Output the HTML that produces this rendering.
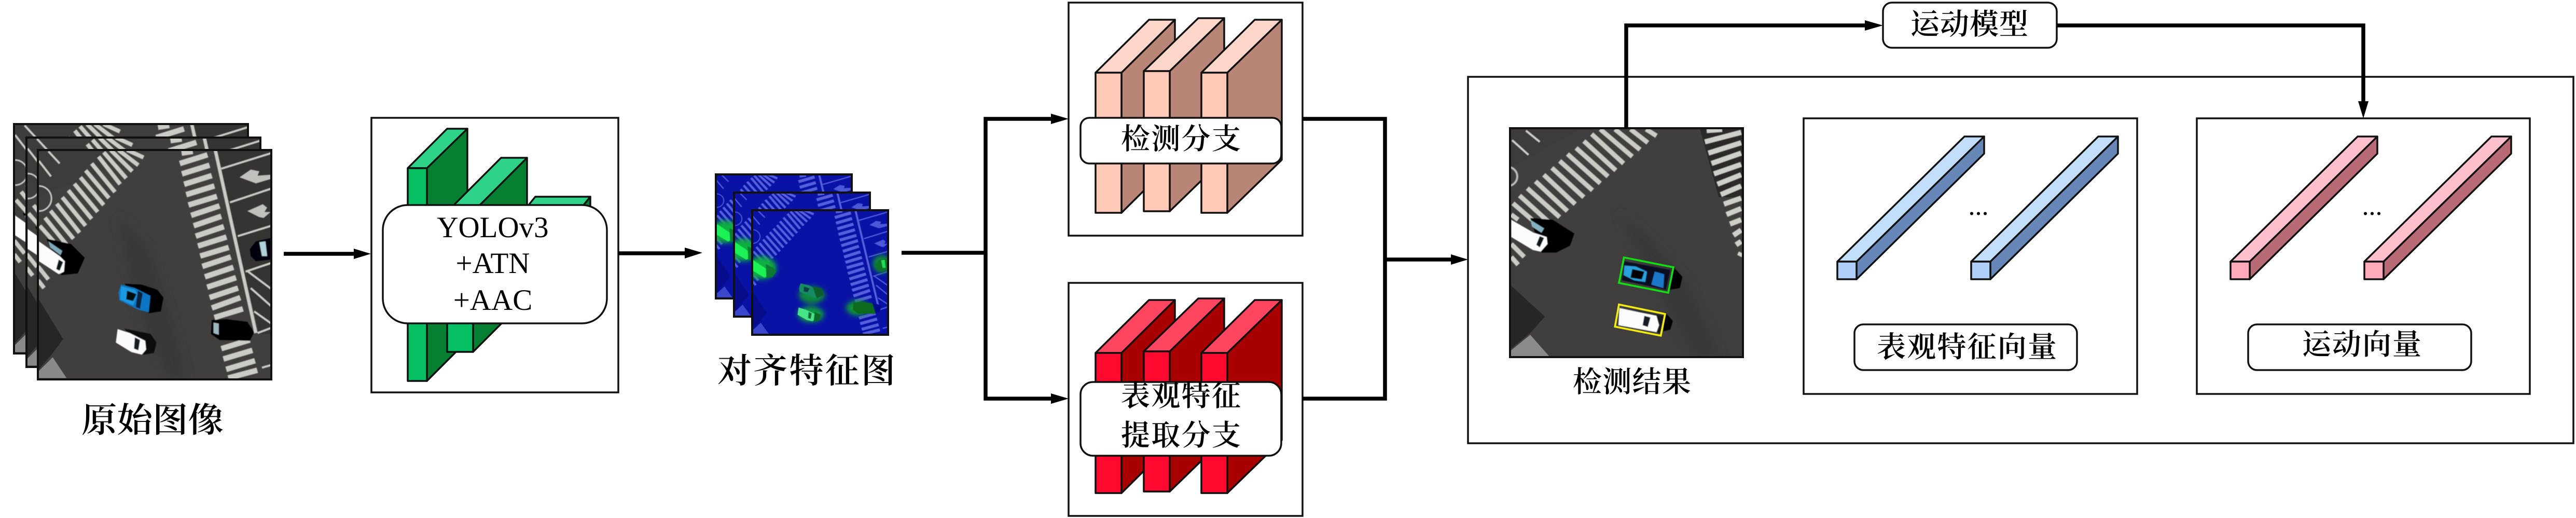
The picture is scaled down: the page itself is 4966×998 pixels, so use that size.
<!DOCTYPE html>
<html><head><meta charset="utf-8"><style>
html,body{margin:0;padding:0;background:#fff;width:4966px;height:998px;overflow:hidden}
svg.root{display:block}
text{font-family:"Liberation Serif","Noto Serif CJK SC",serif;fill:#000}
.cj{font-family:"Liberation Serif","Noto Serif CJK SC",serif;font-weight:600}
.box{fill:#fff;stroke:#111;stroke-width:3.5}
.fr{fill:none;stroke:#111;stroke-width:4}
.w{fill:none;stroke:#000;stroke-width:7.5;stroke-linejoin:miter}
.c polygon,.c rect{stroke:#111;stroke-width:3.5;stroke-linejoin:round}
.f{fill:var(--f)}.t{fill:var(--t)}.s{fill:var(--s)}
</style></head><body>
<svg class="root" xmlns="http://www.w3.org/2000/svg" width="4966" height="998" viewBox="0 0 4966 998">
<defs>
<filter id="bl" x="-60%" y="-60%" width="220%" height="220%"><feGaussianBlur stdDeviation="26"/></filter>
<filter id="bs" x="-5%" y="-5%" width="110%" height="110%"><feGaussianBlur stdDeviation="2.5"/></filter>
<filter id="bw" x="-20%" y="-20%" width="140%" height="140%"><feGaussianBlur stdDeviation="30"/></filter>

<g id="s1geom" fill="none">
<path stroke-width="24" d="M390 65L515 225M350 105L485 270M315 145L450 305M285 185L420 345M250 222L385 385M215 260L350 425M180 300L315 465M148 338L280 505M112 378L245 540M80 418L210 580M50 465L130 555M420 40L550 190M460 27L585 150M505 27L620 115M555 27L650 70M40 700L100 775M40 780L75 825"/>
<path stroke-width="32" d="M870 45L935 35M860 105L1020 55M872 165L1032 115M885 225L1045 175M897 285L1060 235M910 345L1075 295M925 405L1090 350M940 465L1100 410M952 525L1115 470M965 582L1130 530M978 640L1143 590M990 700L1155 645M1005 760L1170 705M1018 820L1185 765M1032 880L1197 825M1045 940L1210 880M1060 995L1225 945M1100 1175L1265 1125M1112 1235L1280 1185M1128 1295L1295 1245M1140 1345L1308 1300"/>
<path stroke-width="20" d="M1065 27L1300 1085"/>
<path stroke-width="12" d="M1100 135L1389 45M1150 330L1389 250M1195 525L1389 465M1240 730L1389 680M1255 730L1389 830M1270 825L1389 930M1290 960L1389 1030M1310 1085L1389 1055M1335 1285L1389 1270M45 90L115 180M100 35L165 105"/>
<path stroke-width="9" d="M45 235A70 70 0 0 1 45 380"/>
</g>
<path id="s1arrows" d="M1205 185L1270 140L1320 150L1310 175L1385 170L1385 195L1300 220ZM1250 380L1340 340L1365 360L1350 385L1385 385L1345 420L1320 415Z"/>

<symbol id="scene" viewBox="39 27 1350 1326" preserveAspectRatio="none">
<rect x="0" y="0" width="1400" height="1400" fill="#403f3e"/>
<polygon points="39,27 39,300 700,27" fill="#3d3c3b"/>
<g filter="url(#bw)"><polygon points="500,400 680,600 780,900 900,1350 800,1350 600,900" fill="#393837"/></g>
<polygon points="850,27 1060,27 1320,1090 1389,1090 1389,27" fill="#353433"/>
<polygon points="39,880 185,1120 110,1220 39,1300" fill="#272625"/>
<polygon points="39,1345 39,1310 125,1225 205,1345" fill="#8a8a88"/>
<g filter="url(#bs)">
<use href="#s1geom" stroke="#cbcbc5"/>
<use href="#s1arrows" fill="#c0c0bc"/>
<polygon points="90,540 230,570 310,650 270,740 175,750" fill="#010103"/>
<polygon points="45,555 165,640 195,670 190,730 160,745 45,670" fill="#fbfbfb"/>
<polygon points="100,555 180,610 170,635 110,590" fill="#7fa8b8"/>
<polygon points="160,660 185,675 165,725 145,715" fill="#0c1318"/>
<polygon points="540,800 640,805 730,835 765,880 750,960 680,970" fill="#020204"/>
<polygon points="520,805 600,825 690,870 680,965 620,950 510,895 505,850" fill="#1176c4"/>
<polygon points="520,815 600,835 615,860 590,925 515,890" fill="#1f98e0"/>
<polygon points="555,840 610,860 590,900 550,890" fill="#06090f"/>
<polygon points="618,840 645,855 630,945 605,935" fill="#08203a"/>
<polygon points="540,1060 690,1090 725,1140 710,1200 650,1210" fill="#070707"/>
<polygon points="500,1062 570,1085 660,1130 665,1180 640,1210 580,1195 490,1140" fill="#fafafa"/>
<polygon points="600,1110 630,1125 620,1185 595,1175" fill="#171a22"/>
<polygon points="1045,1010 1130,1005 1250,1020 1290,1080 1265,1130 1090,1125 1040,1090" fill="#030305"/>
<polygon points="1055,1025 1085,1030 1085,1095 1055,1085" fill="#9fb6bd"/>
<polygon points="1265,600 1300,555 1389,535 1389,660 1300,670 1270,640" fill="#060608"/>
<polygon points="1320,560 1355,555 1365,640 1335,640" fill="#b0d2da"/>
</g>
</symbol>

<symbol id="heat" viewBox="39 27 1350 1326" preserveAspectRatio="none">
<rect x="0" y="0" width="1400" height="1400" fill="#0a12a6"/>
<polygon points="39,880 185,1120 110,1220 39,1300" fill="#060c8a"/>
<polygon points="39,1345 39,1310 125,1225 205,1345" fill="#3a46cc"/>
<g filter="url(#bs)">
<use href="#s1geom" stroke="#5660dc"/>
<use href="#s1arrows" fill="#4e58d8"/>
</g>
<g filter="url(#bl)">
<ellipse cx="130" cy="640" rx="150" ry="120" fill="#0cb040"/>
<ellipse cx="632" cy="930" rx="130" ry="90" fill="#0a8a3a"/>
<ellipse cx="623" cy="1135" rx="130" ry="85" fill="#0b9a3c"/>
<ellipse cx="1087" cy="1067" rx="115" ry="80" fill="#0a9636"/>
<ellipse cx="1327" cy="598" rx="90" ry="95" fill="#0a8d36"/>
</g>
<g filter="url(#bs)">
<polygon points="45,555 165,640 195,670 190,730 160,745 45,670" fill="#1cf254"/>
<polygon points="175,600 250,640 280,680 240,740 180,745" fill="#0c7a30"/>
<polygon points="520,805 600,825 690,870 680,965 620,950 510,895 505,850" fill="#148a62"/>
<polygon points="555,840 610,860 590,900 550,890" fill="#0a3d44"/>
<polygon points="640,840 730,860 750,930 680,965" fill="#0b5e2a"/>
<polygon points="500,1062 570,1085 660,1130 665,1180 640,1210 580,1195 490,1140" fill="#48e488"/>
<polygon points="600,1110 630,1125 620,1185 595,1175" fill="#0c6a34"/>
<polygon points="660,1110 720,1140 710,1200 650,1210" fill="#0a6a28"/>
<polygon points="1045,1010 1130,1005 1250,1020 1290,1080 1265,1130 1090,1125 1040,1090" fill="#0a6a1e"/>
<polygon points="1230,1010 1320,1040 1310,1100 1265,1130" fill="#06108a"/>
<polygon points="1265,600 1300,555 1389,535 1389,660 1300,670 1270,640" fill="#0a7428"/>
<polygon points="1320,560 1355,555 1365,640 1335,640" fill="#22dc54"/>
</g>
</symbol>

<symbol id="det" viewBox="33 21 1347 1323" preserveAspectRatio="none">
<rect x="0" y="0" width="1400" height="1400" fill="#403f3e"/>
<polygon points="33,21 33,250 450,21" fill="#3d3c3b"/>
<g filter="url(#bw)"><polygon points="650,500 820,640 1050,900 1250,1344 1100,1344" fill="#393837"/></g>
<polygon points="1130,21 1380,21 1380,420 1240,420" fill="#2b2a29"/>
<polygon points="33,925 235,1110 150,1205 33,1300" fill="#282726"/>
<polygon points="33,1340 33,1310 150,1215 260,1340" fill="#8b8b89"/>
<g filter="url(#bs)">
<path fill="none" stroke="#cbcbc5" stroke-width="27" d="M505 55L690 225M555 27L740 185M640 27L785 145M730 27L830 105M820 27L880 65M460 95L645 265M415 135L600 300M365 170L555 340M320 210L510 380M275 250L460 420M228 290L410 460M180 328L365 500M133 368L320 535M88 410L270 575M50 455L160 550M40 520L80 550M40 690L115 765M40 765L80 810"/>
<path fill="none" stroke="#cfcfc9" stroke-width="30" d="M1170 35L1260 28M1160 100L1370 45M1180 165L1370 105M1198 225L1370 165M1212 285L1370 230M1232 345L1370 290M1252 405L1370 355M1270 460L1370 425M1285 520L1370 485M1305 575L1370 550M1325 640L1370 610M1340 695L1370 675M1360 760L1370 740"/>
<path fill="none" stroke="#cfcfc9" stroke-width="12" d="M45 90L140 175M125 35L205 100"/>
<circle cx="20" cy="300" r="55" fill="none" stroke="#bcbcb8" stroke-width="12"/>
<polygon points="150,540 280,550 405,630 380,700 300,740 215,740" fill="#010103"/>
<polygon points="40,550 170,625 245,650 250,690 210,735 165,725 40,650" fill="#fbfbfb"/>
<polygon points="150,550 230,600 215,625 160,590" fill="#84b0c0"/>
<polygon points="205,645 230,655 205,710 185,695" fill="#0c1318"/>
<polygon points="980,825 1030,880 1015,945 950,955" fill="#010103"/>
<polygon points="695,790 960,840 935,955 680,900" fill="#0a0f20"/>
<polygon points="695,815 760,820 825,850 815,910 750,900 690,870" fill="#2ba0dc"/>
<polygon points="740,835 810,850 795,895 730,885" fill="#050505"/>
<polygon points="870,850 925,865 920,945 850,925" fill="#1a78c8"/>
<polygon points="930,1085 975,1135 960,1185 920,1195" fill="#020202"/>
<polygon points="680,1060 920,1105 900,1205 655,1160" fill="#15161a"/>
<polygon points="665,1060 780,1085 880,1105 895,1160 880,1200 660,1160" fill="#fbfbfb"/>
<polygon points="810,1105 845,1115 830,1170 800,1160" fill="#151a25"/>
</g>
<polygon points="692,768 978,825 948,972 663,915" fill="none" stroke="#14dd14" stroke-width="11"/>
<polygon points="663,1040 930,1095 905,1220 640,1168" fill="none" stroke="#f2ea10" stroke-width="11"/>
</symbol>

<g id="cub" class="c">
<polygon class="s" points="2162,140 2265,38 2265,308 2162,410"/>
<polygon class="t" points="2112,140 2215,38 2265,38 2162,140"/>
<rect class="f" x="2112" y="140" width="50" height="270"/>
<polygon class="s" points="2255,137 2360,35 2360,305 2255,407"/>
<polygon class="t" points="2205,137 2310,35 2360,35 2255,137"/>
<rect class="f" x="2205" y="137" width="50" height="270"/>
<polygon class="s" points="2366,140 2471,38 2471,308 2366,410"/>
<polygon class="t" points="2316,140 2419,38 2471,38 2366,140"/>
<rect class="f" x="2316" y="140" width="50" height="270"/>
</g>
<g id="bar" class="c">
<polygon class="s" points="3579,504 3825,263 3825,296 3579,538"/>
<polygon class="t" points="3542,504 3787,263 3825,263 3579,504"/>
<rect class="f" x="3542" y="504" width="37" height="34"/>
</g>
</defs>

<!-- original images -->
<svg x="27" y="239" width="451" height="442"><use href="#scene" width="451" height="442"/></svg><rect class="fr" x="27" y="239" width="451" height="442"/>
<svg x="51" y="265" width="451" height="442"><use href="#scene" width="451" height="442"/></svg><rect class="fr" x="51" y="265" width="451" height="442"/>
<svg x="73" y="289" width="450" height="442"><use href="#scene" width="450" height="442"/></svg><rect class="fr" x="73" y="289" width="450" height="442"/>
<text class="cj" x="157" y="832" font-size="66" textLength="274" lengthAdjust="spacingAndGlyphs">原始图像</text>

<!-- arrow 1 -->
<line class="w" x1="547" y1="489" x2="690" y2="489"/>
<polygon points="715,489 682,479 682,499"/>

<!-- YOLO box -->
<rect class="box" x="716" y="227" width="476" height="529"/>
<g class="c" style="--f:#06bf62;--t:#2fd388;--s:#067f33">
<polygon class="s" points="823,324 901,248 901,656 823,734"/>
<polygon class="t" points="786,324 862,248 901,248 823,324"/>
<rect class="f" x="786" y="324" width="37" height="410"/>
<polygon class="s" points="912,408 1016,304 1016,574 912,678"/>
<polygon class="t" points="862,408 966,304 1016,304 912,408"/>
<rect class="f" x="862" y="408" width="50" height="270"/>
<polygon class="s" points="1121,400 1138,379 1138,425 1121,440"/>
<polygon class="t" points="1015,400 1032,379 1138,379 1121,400"/>
</g>
<rect class="box" x="738" y="395" width="432" height="228" rx="48" ry="48"/>
<text x="950" y="457" font-size="57" text-anchor="middle">YOLOv3</text>
<text x="950" y="526" font-size="57" text-anchor="middle">+ATN</text>
<text x="950" y="597" font-size="57" text-anchor="middle">+AAC</text>

<!-- arrow 2 -->
<line class="w" x1="1192" y1="488" x2="1325" y2="488"/>
<polygon points="1354,487 1320,477 1320,498"/>

<!-- feature maps -->
<svg x="1380" y="336" width="262" height="239"><use href="#heat" width="262" height="239"/></svg><rect class="fr" x="1380" y="336" width="262" height="239"/>
<svg x="1415" y="371" width="262" height="239"><use href="#heat" width="262" height="239"/></svg><rect class="fr" x="1415" y="371" width="262" height="239"/>
<svg x="1450" y="405" width="262" height="240"><use href="#heat" width="262" height="240"/></svg><rect class="fr" x="1450" y="405" width="262" height="240"/>
<text class="cj" x="1383" y="737" font-size="66" textLength="343" lengthAdjust="spacing">对齐特征图</text>

<!-- branch lines -->
<path class="w" d="M1738 487H1900M2030 229H1900V768H2030"/>
<polygon points="2060,229 2026,219 2026,239"/>
<polygon points="2060,768 2026,758 2026,778"/>

<!-- top branch -->
<rect class="box" x="2060" y="5" width="451" height="449"/>
<use href="#cub" style="--f:#ffc9b8;--t:#ffd7ca;--s:#b98577"/>
<rect class="box" x="2083" y="227" width="387" height="88" rx="17" ry="17"/>
<text class="cj" x="2161" y="287" font-size="56" textLength="231" lengthAdjust="spacing">检测分支</text>

<!-- bottom branch -->
<rect class="box" x="2060" y="545" width="451" height="449"/>
<use href="#cub" y="540" style="--f:#ff0a2e;--t:#ff4560;--s:#a80000"/>
<rect class="box" x="2083" y="736" width="387" height="142" rx="24" ry="24"/>
<text class="cj" x="2161" y="782" font-size="56" textLength="231" lengthAdjust="spacing">表观特征</text>
<text class="cj" x="2161" y="858" font-size="56" textLength="231" lengthAdjust="spacing">提取分支</text>

<!-- merge -->
<path class="w" d="M2511 229H2670V768H2511M2667 500H2800"/>
<polygon points="2830,500 2797,490 2797,510"/>

<!-- big box -->
<rect class="box" x="2830" y="148" width="2131" height="706"/>

<!-- detection -->
<svg x="2911" y="247" width="449" height="441"><use href="#det" width="449" height="441"/></svg><rect class="fr" x="2911" y="247" width="449" height="441"/>
<text class="cj" x="3032" y="755" font-size="56" textLength="228" lengthAdjust="spacing">检测结果</text>

<!-- motion model -->
<path class="w" d="M3135 247V49H3600"/>
<polygon points="3630,49 3595,39 3595,59"/>
<rect class="box" x="3630" y="5" width="335" height="87" rx="17" ry="17"/>
<text class="cj" x="3683" y="66" font-size="56" textLength="227" lengthAdjust="spacing">运动模型</text>
<path class="w" d="M3965 49H4556V200"/>

<!-- appearance -->
<rect class="box" x="3477" y="228" width="643" height="531"/>
<g style="--f:#aed0f8;--t:#c2defb;--s:#6787b8">
<use href="#bar"/><use href="#bar" x="258"/>
</g>
<text x="3814" y="414" font-size="52" text-anchor="middle">...</text>
<rect class="box" x="3575" y="625" width="429" height="88" rx="17" ry="17"/>
<text class="cj" x="3618" y="688" font-size="56" textLength="347" lengthAdjust="spacing">表观特征向量</text>

<!-- motion -->
<rect class="box" x="4235" y="228" width="642" height="531"/>
<polygon points="4556,228 4546,195 4566,195"/>
<g style="--f:#ffaabb;--t:#ffbfcc;--s:#b86a75">
<use href="#bar" x="758"/><use href="#bar" x="1016"/>
</g>
<text x="4573" y="414" font-size="52" text-anchor="middle">...</text>
<rect class="box" x="4334" y="625" width="430" height="88" rx="17" ry="17"/>
<text class="cj" x="4438" y="683" font-size="56" textLength="230" lengthAdjust="spacing">运动向量</text>
</svg>
</body></html>
